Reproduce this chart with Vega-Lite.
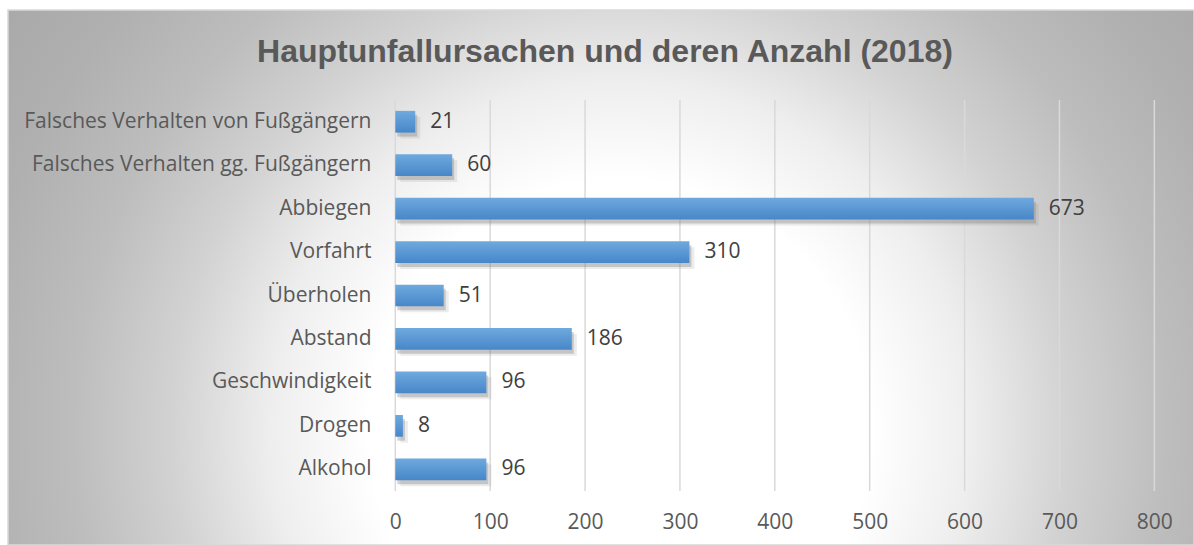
{
  "$schema": "https://vega.github.io/schema/vega-lite/v6.json",
  "width": 1186,
  "height": 535,
  "autosize": {"type": "none"},
  "padding": {"left": 8, "top": 10, "right": 0, "bottom": 0},
  "background": "white",
  "config": {"axis": {"grid": false}},
  "title": {
    "text": "Hauptunfallursachen und deren Anzahl (2018)",
    "font": "Liberation Sans",
    "fontSize": 32,
    "fontWeight": "bold",
    "color": "#595959",
    "anchor": "middle",
    "frame": "group",
    "baseline": "alphabetic",
    "offset": -84,
    "dx": 4
  },
  "view": {
    "fill": {
      "gradient": "radial",
      "x1": 0.516, "y1": 0.629, "r1": 0,
      "x2": 0.516, "y2": 0.629, "r2": 0.641,
      "stops": [
        {"offset": 0, "color": "#ffffff"},
        {"offset": 0.33, "color": "#ffffff"},
        {"offset": 0.46, "color": "#eeeeee"},
        {"offset": 0.59, "color": "#d2d2d2"},
        {"offset": 0.72, "color": "#bdbdbd"},
        {"offset": 0.855, "color": "#b0b0b0"},
        {"offset": 1, "color": "#a8a8a8"}
      ]
    },
    "stroke": "#d9d9d9",
    "strokeWidth": 1.5
  },
  "data": {
    "values": [
      {"Ursache": "Falsches Verhalten von Fußgängern", "Anzahl": 21},
      {"Ursache": "Falsches Verhalten gg. Fußgängern", "Anzahl": 60},
      {"Ursache": "Abbiegen", "Anzahl": 673},
      {"Ursache": "Vorfahrt", "Anzahl": 310},
      {"Ursache": "Überholen", "Anzahl": 51},
      {"Ursache": "Abstand", "Anzahl": 186},
      {"Ursache": "Geschwindigkeit", "Anzahl": 96},
      {"Ursache": "Drogen", "Anzahl": 8},
      {"Ursache": "Alkohol", "Anzahl": 96}
    ]
  },
  "encoding": {
    "y": {
      "field": "Ursache",
      "type": "nominal",
      "sort": null,
      "scale": {
        "domain": ["Falsches Verhalten von Fußgängern", "Falsches Verhalten gg. Fußgängern", "Abbiegen", "Vorfahrt", "Überholen", "Abstand", "Geschwindigkeit", "Drogen", "Alkohol"],
        "range": [90, 481],
        "paddingInner": 0.5,
        "paddingOuter": 0.25
      },
      "axis": {
        "title": null,
        "domain": false,
        "ticks": false,
        "grid": false,
        "labelFont": "Open Sans",
        "labelFontSize": 21,
        "labelColor": "#595959",
        "labelLimit": 600,
        "labelPadding": 0,
        "offset": -363
      }
    },
    "x": {
      "field": "Anzahl",
      "type": "quantitative",
      "scale": {"domain": [-408.2, 841.8], "nice": false, "zero": false},
      "axis": {
        "title": null,
        "values": [0, 100, 200, 300, 400, 500, 600, 700, 800],
        "grid": false,
        "domain": false,
        "ticks": false,
        "labelFont": "Open Sans",
        "labelFontSize": 21,
        "labelColor": "#595959",
        "labelBaseline": "alphabetic",
        "labelPadding": 0,
        "labelFlush": false,
        "labelOverlap": false,
        "offset": -17
      }
    }
  },
  "layer": [
    {
      "data": {"values": [{"Wert": 0}, {"Wert": 100}, {"Wert": 200}, {"Wert": 300}, {"Wert": 400}, {"Wert": 500}, {"Wert": 600}, {"Wert": 700}, {"Wert": 800}]},
      "mark": {"type": "rule", "color": "#d9d9d9", "strokeWidth": 1.5, "yOffset": -21.7, "y2Offset": 21.7},
      "encoding": {
        "x": {
          "field": "Wert",
          "type": "quantitative",
          "scale": {"domain": [-408.2, 841.8], "nice": false, "zero": false},
          "axis": {
            "title": null,
            "values": [0, 100, 200, 300, 400, 500, 600, 700, 800],
            "grid": false,
            "domain": false,
            "ticks": false,
            "labelFont": "Open Sans",
            "labelFontSize": 21,
            "labelColor": "#595959",
            "labelBaseline": "alphabetic",
            "labelPadding": 0,
            "labelFlush": false,
            "labelOverlap": false,
            "offset": -17
          }
        },
        "y": {"datum": "Falsches Verhalten von Fußgängern", "type": "nominal"},
        "y2": {"datum": "Alkohol"}
      }
    },
    {"mark": {"type": "bar", "fill": "#7f7f7f", "opacity": 0.15, "xOffset": 5, "yOffset": 6}},
    {"mark": {"type": "bar", "fill": "#7f7f7f", "opacity": 0.35, "xOffset": 2, "yOffset": 4}},
    {
      "mark": {
        "type": "bar",
        "fill": {
          "gradient": "linear",
          "x1": 0, "y1": 0, "x2": 0, "y2": 1,
          "stops": [
            {"offset": 0, "color": "#6fa9de"},
            {"offset": 1, "color": "#4787c9"}
          ]
        }
      }
    },
    {
      "mark": {
        "type": "text",
        "align": "left",
        "baseline": "middle",
        "dx": 15,
        "font": "Open Sans",
        "fontSize": 21,
        "color": "#404040"
      },
      "encoding": {"text": {"field": "Anzahl", "type": "quantitative"}}
    }
  ]
}
